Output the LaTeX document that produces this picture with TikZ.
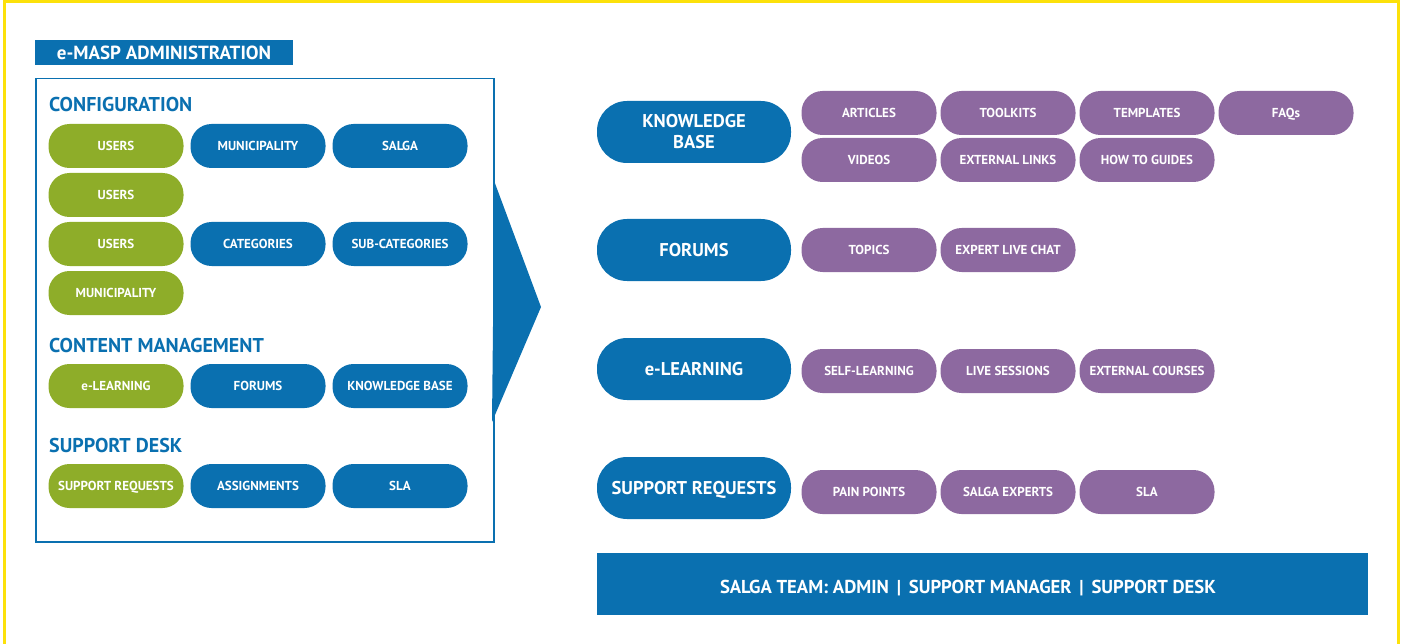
\documentclass[tikz,border=0pt]{standalone}
\usepackage{fontspec}
\setmainfont{PT Sans}
\usetikzlibrary{positioning}

\definecolor{maspblue}{HTML}{0A70B0}
\definecolor{maspgreen}{HTML}{8EAD29}
\definecolor{masppurple}{HTML}{8D69A0}
\definecolor{maspyellow}{HTML}{FCE10A}

\begin{document}
\begin{tikzpicture}[x=1pt,y=-1pt,on grid,node distance=142pt]
       \tikzset{pill/.style={rectangle, rounded corners=21pt, minimum width=135pt, minimum height=44pt,
                inner sep=0pt, text=white, text height=9.4pt, text depth=0pt,
                font=\bfseries\fontsize{13}{15}\selectfont},
                gpill/.style={pill, fill=maspgreen},
                bpill/.style={pill, fill=maspblue},
                ppill/.style={pill, fill=masppurple},
                bigpill/.style={rectangle, rounded corners=30pt, minimum width=194pt, minimum height=62pt,
                inner sep=0pt, fill=maspblue, text=white, align=center,
                font=\bfseries\fontsize{18.5}{21}\selectfont},
                heading/.style={anchor=west, inner sep=0pt, text=maspblue, text height=14pt, text depth=0pt,
                font=\bfseries\fontsize{20}{22}\selectfont}}

       \useasboundingbox (0,0) rectangle (1407,644);
       \draw[maspyellow, line width=3pt] (4.5,644) -- (4.5,1.5) -- (1398.5,1.5) -- (1398.5,644);

       \node[fill=maspblue, minimum width=258pt, minimum height=25pt, inner sep=0pt, text=white,
             text height=13.5pt, text depth=0pt,
             font=\bfseries\fontsize{19}{21}\selectfont] (admin) at (164,52.5) {e-MASP ADMINISTRATION};
       \node[draw=maspblue, line width=1.5pt, minimum width=458pt, minimum height=463pt, anchor=north west,
             inner sep=0pt] (adminbox) at (35,78) {};
       \fill[maspblue] (adminbox.north east) ++(0,104) -- (541,307) -- (492,422) -- cycle;

       \node[heading] (config) at (49,105) {CONFIGURATION};
       \node[gpill] (cfgusers) at (116,146) {USERS};
       \node[bpill, right=of cfgusers] (cfgmuni) {MUNICIPALITY};
       \node[bpill, right=of cfgmuni] (cfgsalga) {SALGA};
       \node[gpill, below=49pt of cfgusers] (cfgusersb) {USERS};
       \node[gpill, below=49pt of cfgusersb] (cfgusersc) {USERS};
       \node[bpill, right=of cfgusersc] (cfgcat) {CATEGORIES};
       \node[bpill, right=of cfgcat] (cfgsubcat) {SUB-CATEGORIES};
       \node[gpill, below=49pt of cfgusersc] (cfgmunib) {MUNICIPALITY};

       \node[heading] (content) at (49,345) {CONTENT MANAGEMENT};
       \node[gpill] (cmlearn) at (116,386) {e-LEARNING};
       \node[bpill, right=of cmlearn] (cmforums) {FORUMS};
       \node[bpill, right=of cmforums] (cmkb) {KNOWLEDGE BASE};

       \node[heading] (desk) at (49,445) {SUPPORT DESK};
       \node[gpill] (sdreq) at (116,486) {SUPPORT REQUESTS};
       \node[bpill, right=of sdreq] (sdassign) {ASSIGNMENTS};
       \node[bpill, right=of sdassign] (sdsla) {SLA};

       \begin{scope}[node distance=139pt]
       \node[bigpill] (kb) at (694,132) {KNOWLEDGE\\BASE};
       \node[ppill] (kbarticles) at (869,113) {ARTICLES};
       \node[ppill, right=of kbarticles] (kbtoolkits) {TOOLKITS};
       \node[ppill, right=of kbtoolkits] (kbtemplates) {TEMPLATES};
       \node[ppill, right=of kbtemplates] (kbfaqs) {FAQs};
       \node[ppill, below=47pt of kbarticles] (kbvideos) {VIDEOS};
       \node[ppill, right=of kbvideos] (kblinks) {EXTERNAL LINKS};
       \node[ppill, right=of kblinks] (kbguides) {HOW TO GUIDES};

       \node[bigpill] (forums) at (694,250) {FORUMS};
       \node[ppill] (ftopics) at (869,250) {TOPICS};
       \node[ppill, right=of ftopics] (fchat) {EXPERT LIVE CHAT};

       \node[bigpill] (elearn) at (694,369) {e-LEARNING};
       \node[ppill] (elself) at (869,371) {SELF-LEARNING};
       \node[ppill, right=of elself] (ellive) {LIVE SESSIONS};
       \node[ppill, right=of ellive] (elcourses) {EXTERNAL COURSES};

       \node[bigpill, text height=13pt, text depth=0pt] (support) at (694,488) {SUPPORT REQUESTS};
       \node[ppill] (sppain) at (869,492) {PAIN POINTS};
       \node[ppill, right=of sppain] (spexperts) {SALGA EXPERTS};
       \node[ppill, right=of spexperts] (spsla) {SLA};
       \end{scope}

       \node[fill=maspblue, minimum width=771pt, minimum height=62pt, inner sep=0pt] (team) at (982.5,584) {};
       \node[inner sep=0pt, text=white, text height=13.2pt, text depth=0pt,
             font=\bfseries\fontsize{18.7}{21}\selectfont] (teamtext) at (968,587)
             {SALGA TEAM: ADMIN \,|\, SUPPORT MANAGER \,|\, SUPPORT DESK};
     \end{tikzpicture}
\end{document}
